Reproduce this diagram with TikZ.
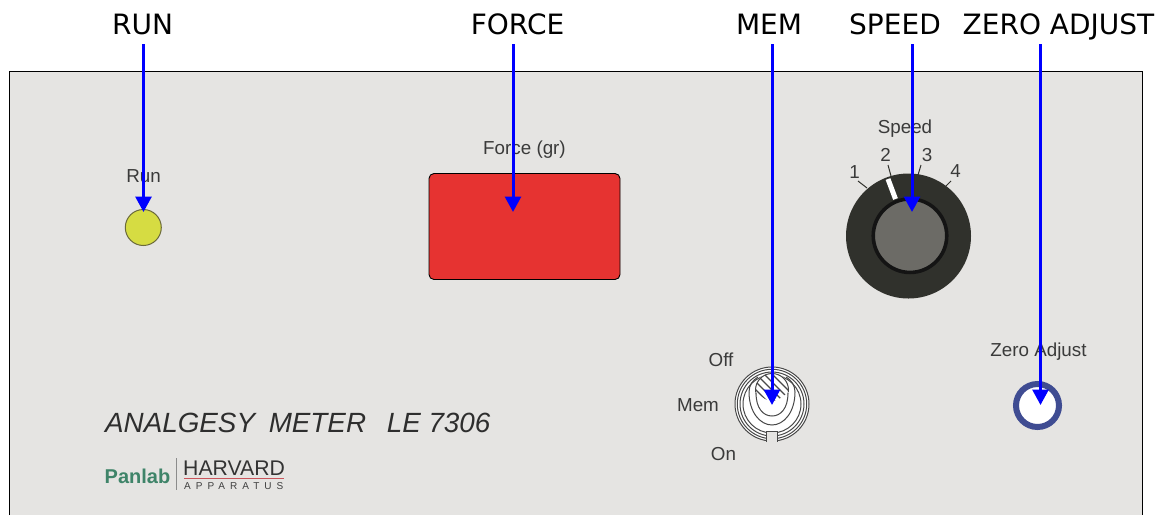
\documentclass[tikz,border=0pt]{standalone}
\usepackage{fontspec}
\setmainfont{DejaVu Sans}
\newfontfamily\hv{Liberation Sans}
\usetikzlibrary{arrows.meta}
\definecolor{panelc}{HTML}{E5E4E2}
\definecolor{txtc}{HTML}{3A3A3A}
\definecolor{knobc}{HTML}{30312C}
\definecolor{capc}{HTML}{6C6B66}
\definecolor{ledc}{HTML}{D6DC42}
\definecolor{ledl}{HTML}{6B6A3A}
\definecolor{redc}{HTML}{E63331}
\definecolor{ringc}{HTML}{3F4C92}
\definecolor{panc}{HTML}{3F8469}
\definecolor{swc}{HTML}{484848}
\definecolor{rulec}{HTML}{C9545A}
\tikzset{
  x=1pt,y=-1pt,
  toplabel/.style={font=\fontsize{28}{28}\selectfont,text=black,inner sep=0pt,anchor=base},
  paneltext/.style={font=\hv\fontsize{18.8}{19}\selectfont,text=txtc,inner sep=0pt},
  pointer/.style={draw=blue,line width=3pt,-{Triangle[length=15.5pt,width=16pt]}},
  swline/.style={draw=swc,line width=1pt},
}
\begin{document}
\begin{tikzpicture}
\useasboundingbox (0,0) rectangle (1162,515);
\fill[white] (0,0) rectangle (1162,515);
% panel
\path[fill=panelc] (9,71) rectangle (1142,515);
\draw[black,line width=0.9pt] (9,515) -- (9,71) -- (1142,71) -- (1142,515);
% run
\node[paneltext] (runtxt) at (143.5,176.5) {Run};
\node[circle,draw=ledl,fill=ledc,line width=1pt,minimum size=36pt,inner sep=0pt] (led) at (143.3,227.5) {};
% force
\node[paneltext] (forcetxt) at (524.5,150) {Force (gr)};
\node[draw=black,fill=redc,rounded corners=5pt,line width=0.9pt,minimum width=191pt,minimum height=106pt,inner sep=0pt] (display) at (524.5,226.5) {};
% speed knob
\node[paneltext] (speedtxt) at (905,129) {Speed};
\draw[knobc,line width=1pt] (858,181)--(867,188);
\draw[knobc,line width=1pt] (888,165)--(891,176);
\draw[knobc,line width=1pt] (921,165)--(918,175);
\draw[knobc,line width=1pt] (951,181)--(945,187);
\node[paneltext] at (854.5,172) {1};
\node[paneltext] at (885.5,155) {2};
\node[paneltext] at (927,155) {3};
\node[paneltext] at (955.5,171.5) {4};
\node[circle,fill=knobc,minimum size=125pt,inner sep=0pt] (knob) at (908.5,236) {};
\draw[white,line width=5pt] (888,179)--(895.5,199);
\node[circle,fill=capc,draw=black!92,line width=3.6pt,minimum size=73.5pt,inner sep=0pt] (cap) at (910,235.7) {};
% switch
\node[paneltext] at (721,359.5) {Off};
\node[paneltext] at (698,405.5) {Mem};
\node[paneltext] at (723.5,454.5) {On};
\begin{scope}[shift={(772,404)}]
  \fill[white] (0,0) circle (37);
  \foreach \r in {37,34.7,32,29}{ \draw[swline] (0,0) circle (\r); }
  \fill[white] (0,-14) circle (17);
  \begin{scope}
    \clip (0,-14) circle (16.5);
    \foreach \d in {-50,-42,...,30}{ \draw[swline,line width=1.2pt] (\d,-32) -- (\d+36,4); }
  \end{scope}
  \draw[swline] (0,-14) circle (16.5);
  % white crescent under the hatching
  \fill[white] (-16.5,-12) .. controls (-10,-6) and (-5,-3) .. (0,-3) .. controls (5,-3) and (10,-6) .. (16.5,-12) -- (16.5,4) -- (-16.5,4) -- cycle;
  \draw[swline] (-16,-11) .. controls (-16,4) and (-9,12) .. (0,12) .. controls (9,12) and (16,4) .. (16,-11);
  \draw[swline] (-23,-12) .. controls (-23,8) and (-12,21) .. (0,21) .. controls (12,21) and (23,8) .. (23,-12);
  \draw[swline] (-23,-12) .. controls (-23,-19) and (-19,-24) .. (-14,-27);
  \draw[swline] (23,-12) .. controls (23,-19) and (19,-24) .. (14,-27);
  \fill[panelc] (-5.5,27) rectangle (5.5,39);
  \draw[swline] (-5.5,38) -- (-5.5,27) -- (5.5,27) -- (5.5,38);
\end{scope}
\coordinate (swtarget) at (772,405);
% zero adjust
\node[paneltext] (zerotxt) at (1038.5,351.5) {Zero Adjust};
\node[circle,fill=white,draw=ringc,line width=6pt,minimum size=43pt,inner sep=0pt] (zero) at (1037.5,405.5) {};
% logo text
\node[inner sep=0pt,anchor=base west,font=\hv\itshape\fontsize{27.8}{30}\selectfont,text=black!82] (title) at (105,432) {ANALGESY\hspace{6pt} METER\hspace{13pt} LE 7306};
\node[inner sep=0pt,anchor=base west,font=\hv\bfseries\fontsize{20}{22}\selectfont,text=panc] (panlab) at (104.5,483) {Panlab};
\draw[black!45,line width=0.7pt] (176.7,458) -- (176.7,490);
\node[inner sep=0pt,anchor=base west,font=\hv\fontsize{21.2}{22}\selectfont,text=black!80] (harvard) at (183,475.5) {HARVARD};
\draw[rulec,line width=1.5pt] (184,478.5) -- (284,478.5);
\node[inner sep=0pt,anchor=base west,font=\hv\fontsize{10}{10}\selectfont\addfontfeature{LetterSpace=50},text=black!75] (appar) at (184,489.5) {APPARATUS};
% top labels and pointers
\node[toplabel] (lrun) at (142.5,34) {RUN};
\node[toplabel] (lforce) at (517.5,34) {FORCE};
\node[toplabel] (lmem) at (769,34) {MEM};
\node[toplabel] (lspeed) at (895,34) {SPEED};
\node[toplabel] (lzero) at (1058.5,34) {ZERO ADJUST};
\coordinate (a1) at (143.5,44);\coordinate (b1) at (143.5,212);
\coordinate (a2) at (513,44);\coordinate (b2) at (513,212);
\coordinate (a3) at (772,44);\coordinate (b3) at (772,405);
\coordinate (a4) at (912,44);\coordinate (b4) at (912,212);
\coordinate (a5) at (1040.5,44);\coordinate (b5) at (1040.5,405);
\draw[pointer] (a1) -- (b1);
\draw[pointer] (a2) -- (b2);
\draw[pointer] (a3) -- (b3);
\draw[pointer] (a4) -- (b4);
\draw[pointer] (a5) -- (b5);
\end{tikzpicture}
\end{document}
